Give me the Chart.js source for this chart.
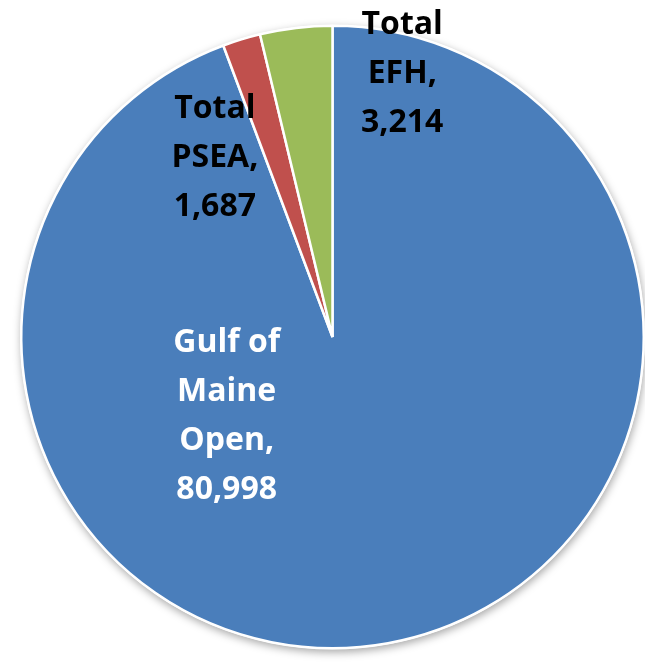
<!DOCTYPE html>
<html>
<head>
<meta charset="utf-8">
<script src="https://cdn.jsdelivr.net/npm/chart.js@4/dist/chart.umd.min.js"></script>
<style>
  html, body { margin: 0; padding: 0; background: #ffffff; }
  #wrap { width: 645px; height: 662px; position: relative; }
</style>
</head>
<body>
<div id="wrap"><canvas id="pie"></canvas></div>
<script>
// Area by category
const categories = ['Gulf of Maine Open', 'Total PSEA', 'Total EFH'];
const values = [80998, 1687, 3214];
// Data label text, one entry per line
const labelLines = [
  ['Gulf of', 'Maine', 'Open,', '80,998'],
  ['Total', 'PSEA,', '1,687'],
  ['Total', 'EFH,', '3,214']
];

const sliceColors = ['#4a7ebb', '#c0504d', '#9bbb59'];
const labelColors = ['#ffffff', '#000000', '#000000'];
// label anchor, as a fraction of the radius from the pie centre
const labelAnchors = [[-0.34, 0.255], [-0.378, -0.577], [0.224, -0.846]];

// soft drop shadow under the whole pie
const pieShadow = {
  id: 'pieShadow',
  beforeDatasetsDraw(chart) {
    const arc = chart.getDatasetMeta(0).data[0];
    if (!arc) return;
    const ctx = chart.ctx;
    ctx.save();
    ctx.shadowColor = 'rgba(0,0,0,0.35)';
    ctx.shadowBlur = 8;
    ctx.shadowOffsetX = 1;
    ctx.shadowOffsetY = 3;
    ctx.fillStyle = '#ffffff';
    ctx.beginPath();
    ctx.arc(arc.x, arc.y, arc.outerRadius + 1, 0, Math.PI * 2);
    ctx.fill();
    ctx.restore();
  }
};

// multi-line category/value labels
const sliceLabels = {
  id: 'sliceLabels',
  afterDatasetsDraw(chart) {
    const ctx = chart.ctx;
    const meta = chart.getDatasetMeta(0);
    ctx.save();
    ctx.font = 'bold 32px "Open Sans", sans-serif';
    ctx.textAlign = 'center';
    ctx.textBaseline = 'middle';
    const lh = 49;
    meta.data.forEach((arc, i) => {
      const r = arc.outerRadius;
      const cx = arc.x + labelAnchors[i][0] * r;
      const cy = arc.y + labelAnchors[i][1] * r;
      const lines = labelLines[i];
      ctx.fillStyle = labelColors[i];
      lines.forEach((t, k) => {
        ctx.fillText(t, cx, cy + (k - (lines.length - 1) / 2) * lh);
      });
    });
    ctx.restore();
  }
};

new Chart(document.getElementById('pie'), {
  type: 'pie',
  data: {
    labels: categories,
    datasets: [{
      data: values,
      backgroundColor: sliceColors,
      borderColor: '#ffffff',
      borderWidth: 2.5
    }]
  },
  options: {
    responsive: true,
    maintainAspectRatio: false,
    animation: false,
    layout: { padding: { left: 20, right: 0, top: 24, bottom: 12 } },
    plugins: {
      legend: { display: false },
      tooltip: { enabled: false },
      title: { display: false }
    }
  },
  plugins: [pieShadow, sliceLabels]
});
</script>
</body>
</html>
